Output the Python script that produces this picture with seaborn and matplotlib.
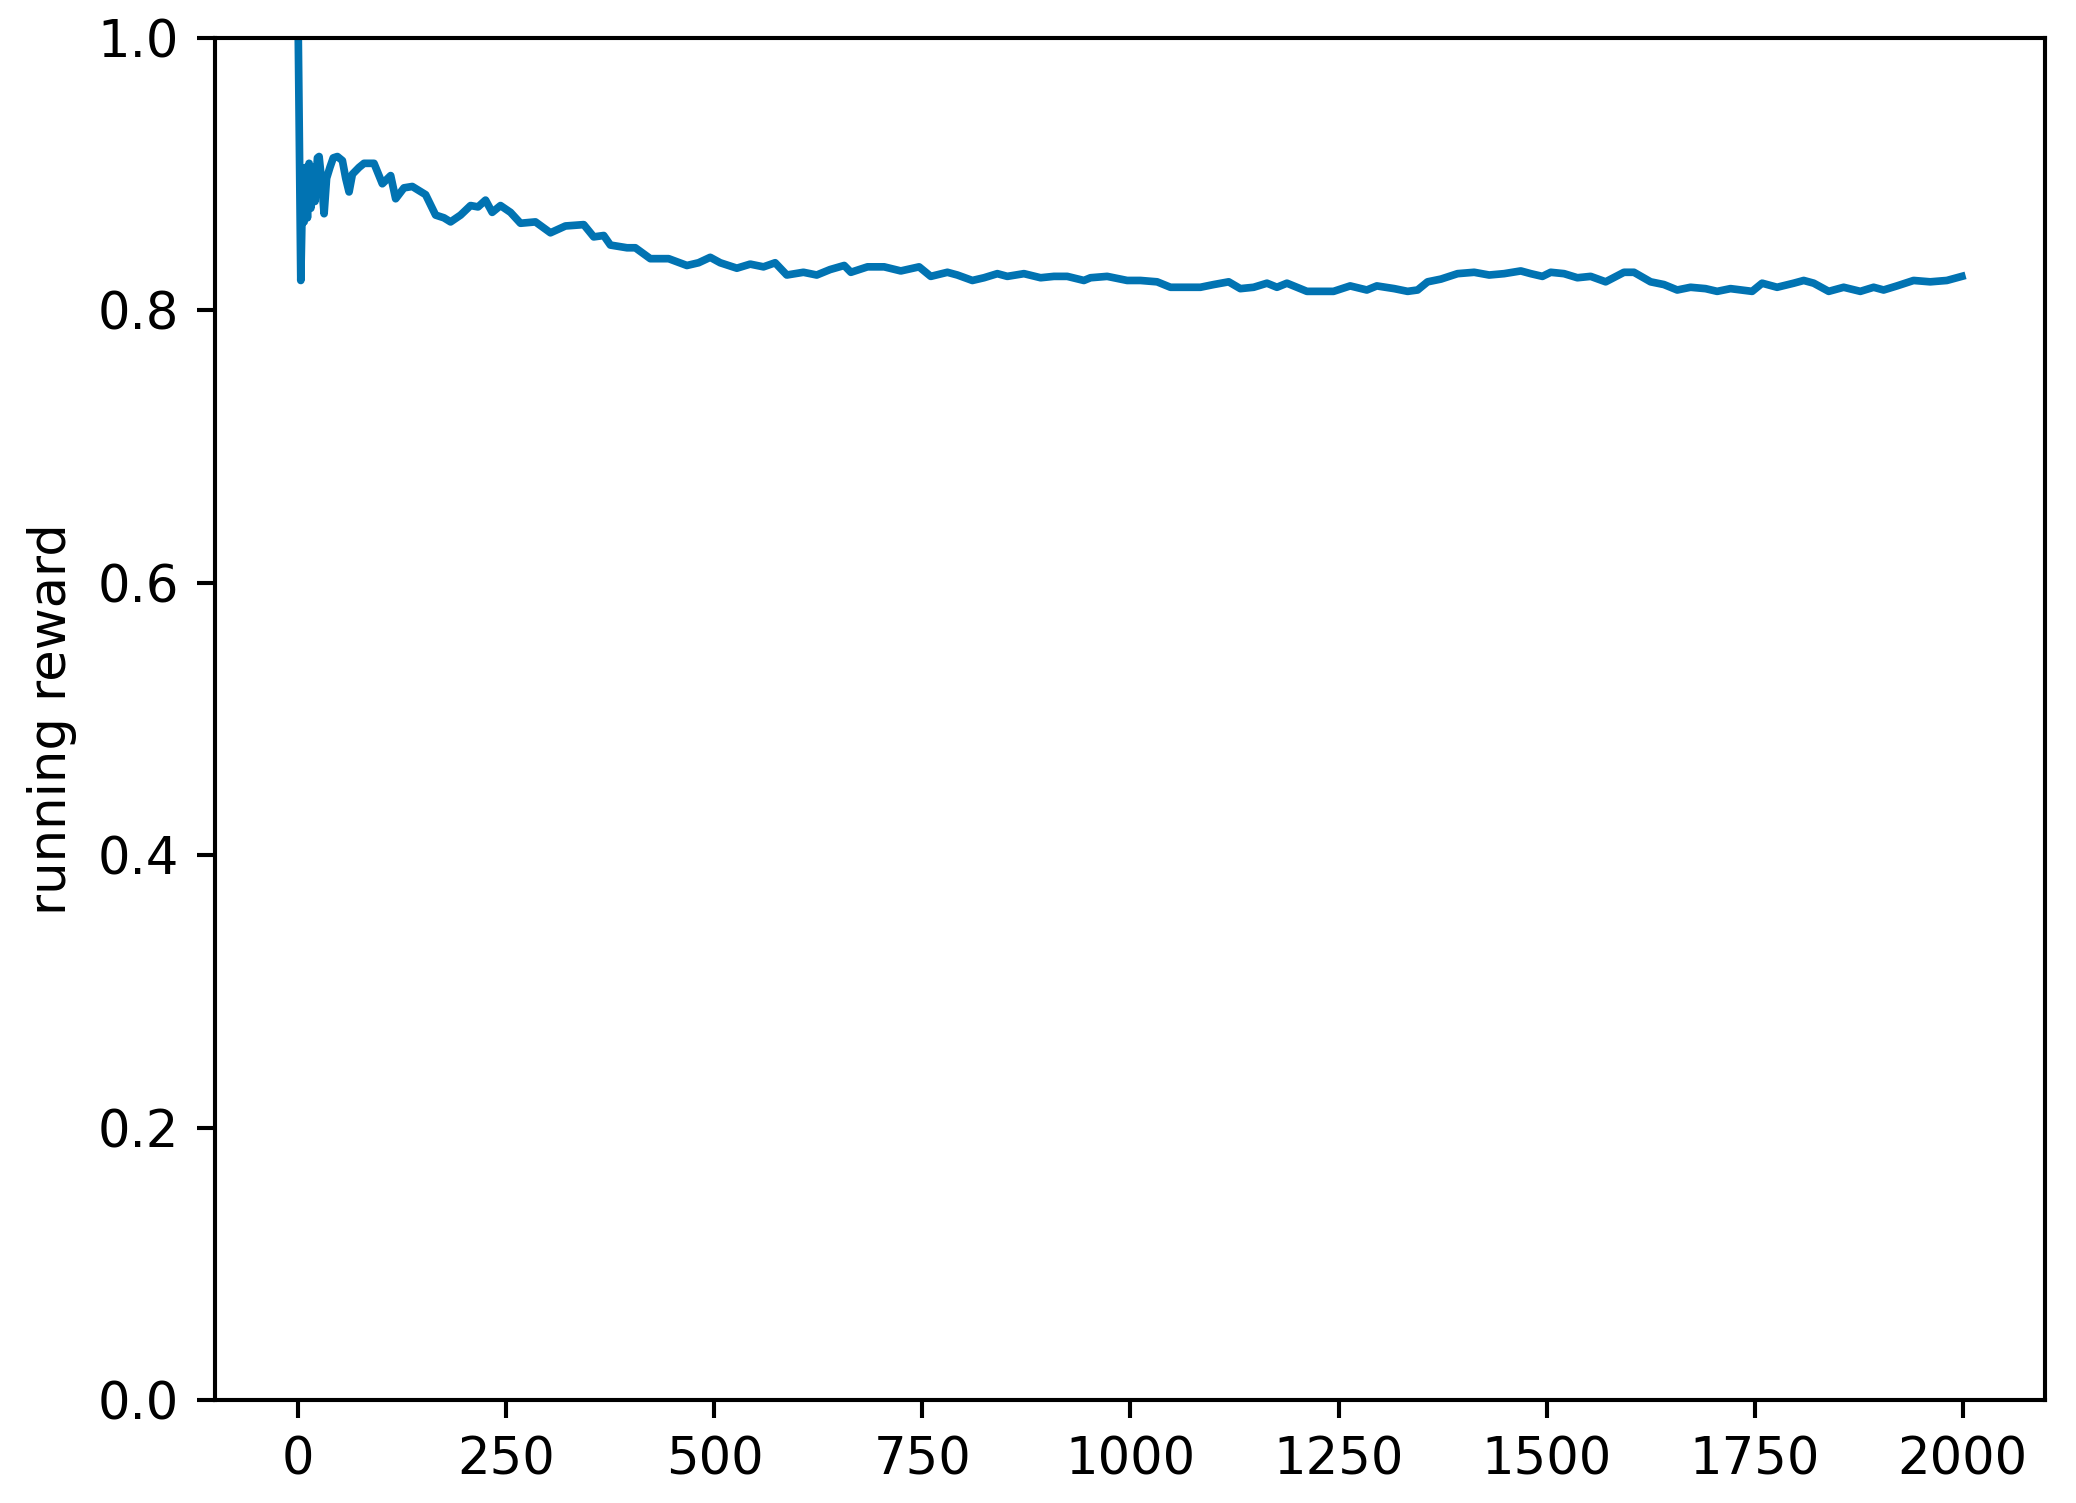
import numpy as np
import pandas as pd
import matplotlib
matplotlib.use("Agg")
import matplotlib.pyplot as plt
import seaborn as sns

# Episode index and running reward
episodes = [0, 3, 5, 7, 9, 11, 13, 15, 18, 20, 23, 25, 28, 31, 34, 38, 42, 47, 53, 57,
            61, 65, 73, 79, 91, 101, 111, 117, 127, 137, 153, 165, 175, 183, 195, 207,
            216, 225, 233, 243, 255, 267, 285, 303, 321, 343, 355, 367, 375, 395, 405,
            423, 445, 467, 481, 495, 507, 527, 543, 559, 573, 587, 607, 623, 639, 656,
            664, 684, 704, 724, 746, 760, 780, 792, 810, 824, 840, 852, 872, 892, 908,
            924, 944, 952, 972, 996, 1012, 1032, 1048, 1068, 1084, 1100, 1118, 1132,
            1148, 1164, 1176, 1188, 1212, 1232, 1244, 1264, 1284, 1296, 1317, 1333,
            1345, 1357, 1373, 1393, 1413, 1431, 1449, 1469, 1481, 1495, 1505, 1521,
            1537, 1553, 1571, 1593, 1605, 1625, 1641, 1657, 1673, 1691, 1705, 1721,
            1747, 1759, 1777, 1797, 1809, 1821, 1839, 1857, 1877, 1893, 1905, 1921,
            1941, 1961, 1981, 1999]
running_reward = [1.000, 0.822, 0.885, 0.865, 0.905, 0.868, 0.908, 0.875, 0.905, 0.880,
                  0.912, 0.913, 0.895, 0.871, 0.897, 0.905, 0.912, 0.913, 0.910, 0.897,
                  0.887, 0.900, 0.905, 0.908, 0.908, 0.893, 0.899, 0.882, 0.890, 0.891,
                  0.885, 0.870, 0.868, 0.865, 0.870, 0.877, 0.876, 0.881, 0.872, 0.877,
                  0.872, 0.864, 0.865, 0.857, 0.862, 0.863, 0.854, 0.855, 0.848, 0.846,
                  0.846, 0.838, 0.838, 0.833, 0.835, 0.839, 0.835, 0.831, 0.834, 0.832,
                  0.835, 0.826, 0.828, 0.826, 0.830, 0.833, 0.828, 0.832, 0.832, 0.829,
                  0.832, 0.825, 0.828, 0.826, 0.822, 0.824, 0.827, 0.825, 0.827, 0.824,
                  0.825, 0.825, 0.822, 0.824, 0.825, 0.822, 0.822, 0.821, 0.817, 0.817,
                  0.817, 0.819, 0.821, 0.816, 0.817, 0.820, 0.817, 0.820, 0.814, 0.814,
                  0.814, 0.818, 0.815, 0.818, 0.816, 0.814, 0.815, 0.821, 0.823, 0.827,
                  0.828, 0.826, 0.827, 0.829, 0.827, 0.825, 0.828, 0.827, 0.824, 0.825,
                  0.821, 0.828, 0.828, 0.821, 0.819, 0.815, 0.817, 0.816, 0.814, 0.816,
                  0.814, 0.820, 0.817, 0.820, 0.822, 0.820, 0.814, 0.817, 0.814, 0.817,
                  0.815, 0.818, 0.822, 0.821, 0.822, 0.825]

y_ticks = [0.0, 0.2, 0.4, 0.6, 0.8, 1.0]
x_ticks = [0, 250, 500, 750, 1000, 1250, 1500, 1750, 2000]

df = pd.DataFrame({"episode": episodes, "running reward": running_reward})

DPI = 369
fig = plt.figure(figsize=(2076 / DPI, 1503 / DPI), dpi=DPI)
ax = fig.add_axes([0.1036, 0.0685, 0.8815, 0.9062])

sns.lineplot(data=df, x="episode", y="running reward", ax=ax,
             color="#0173b2", linewidth=1.5)

ax.set_ylim(0.0, 1.0)
ax.set_yticks(y_ticks)
ax.set_xticks(x_ticks)
ax.set_xlim(-100, 2099)
ax.set_xlabel("")
ax.set_ylabel("running reward", fontsize=10)
ax.tick_params(labelsize=10)

fig.savefig("out.png", dpi=DPI)
